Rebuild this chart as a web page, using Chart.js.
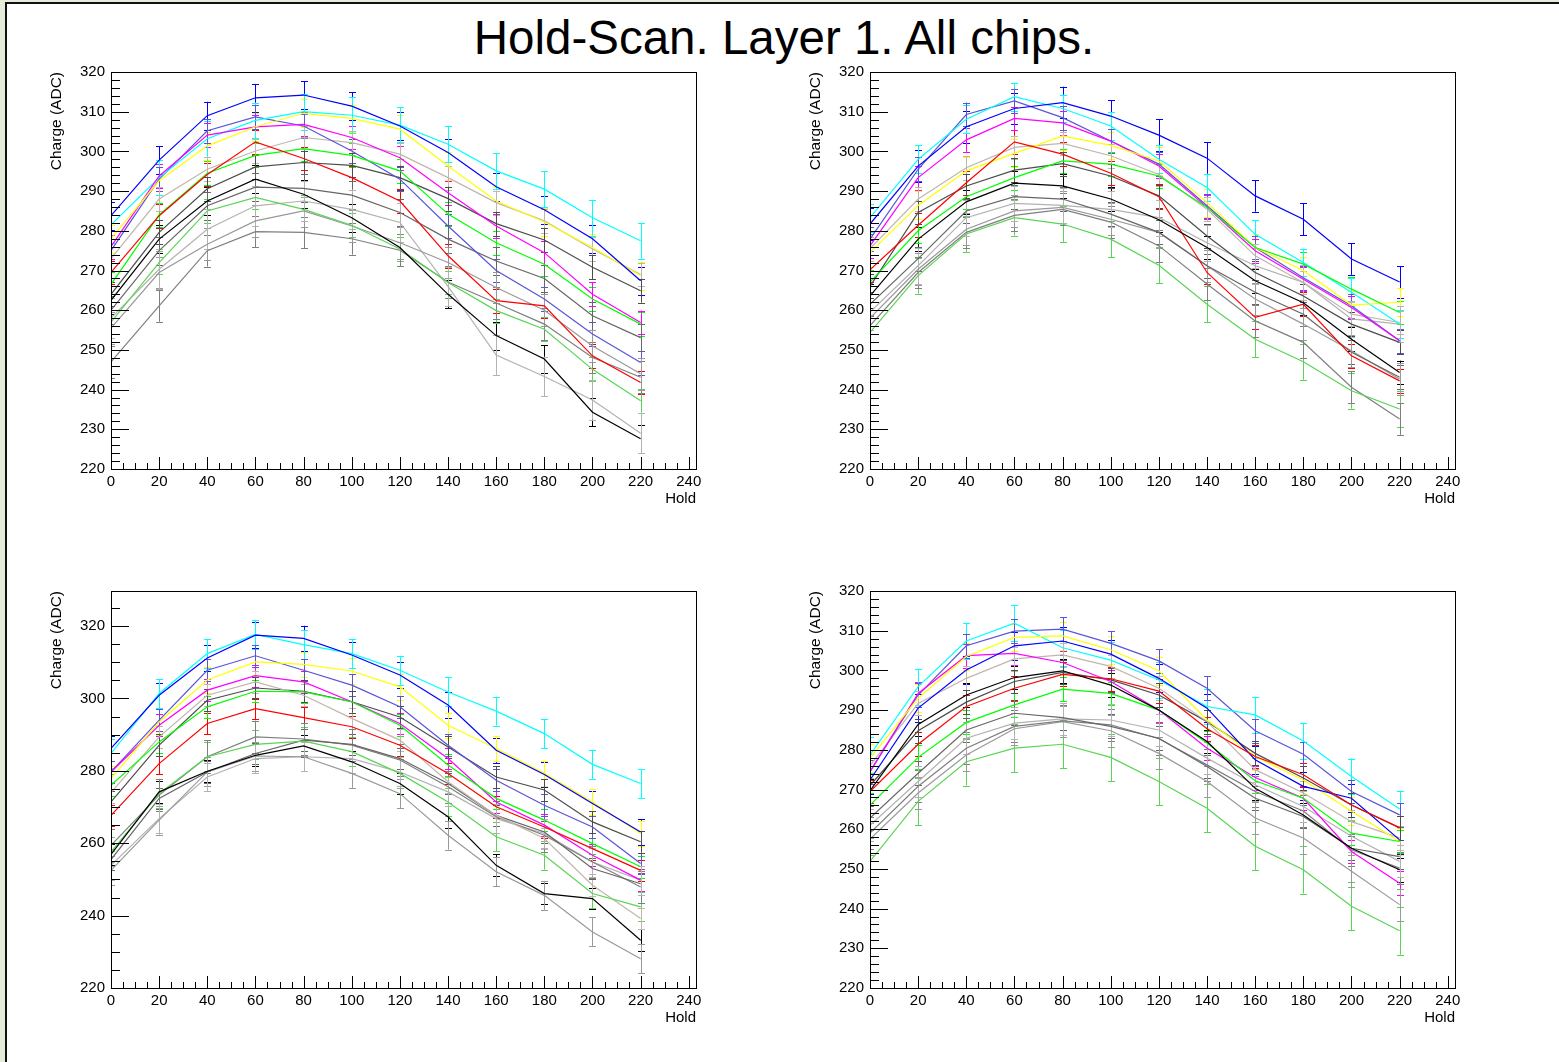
<!DOCTYPE html>
<html>
<head>
<meta charset="utf-8">
<script src="https://cdn.jsdelivr.net/npm/chart.js@4.4.1/dist/chart.umd.min.js"></script>
<style>
  html, body { margin:0; padding:0; }
  body { width:1559px; height:1062px; background:#e3edd9; position:relative; overflow:hidden; font-family:"Liberation Sans", Arial, Helvetica, sans-serif; }
  #sheet { position:absolute; left:5px; top:2px; right:0; bottom:0; background:#fff; border-left:2px solid #111; border-top:2px solid #111; }
  #title { position:absolute; left:0; top:14px; width:1568px; text-align:center; font-size:47.5px; line-height:48px; color:#000; }
  canvas { position:absolute; }
</style>
</head>
<body>
<div id="sheet"></div>
<div id="title">Hold-Scan. Layer 1. All chips.</div>
<canvas id="c1" width="700" height="460" style="left:30px;top:55px;width:700px;height:460px"></canvas>
<canvas id="c2" width="700" height="460" style="left:789px;top:55px;width:700px;height:460px"></canvas>
<canvas id="c3" width="700" height="460" style="left:30px;top:574px;width:700px;height:460px"></canvas>
<canvas id="c4" width="700" height="460" style="left:789px;top:574px;width:700px;height:460px"></canvas>
<script>
// ---------- data ----------
const holds = [0, 20, 40, 60, 80, 100, 120, 140, 160, 180, 200, 220];
const chips = [1, 2, 3, 4, 5, 6, 7, 8, 9, 11, 12, 13, 14, 15, 16];

// Panel 1
const p1_c1  = [262.5, 277.9, 287.5, 293.0, 289.2, 283.3, 275.8, 264.0, 253.6, 247.7, 234.3, 227.6];
const p1_c2  = [269.5, 283.8, 294.2, 302.4, 298.2, 293.4, 287.5, 273.7, 262.4, 261.1, 248.5, 241.8];
const p1_c3  = [266.5, 284.0, 294.5, 299.0, 300.7, 299.0, 295.1, 284.2, 277.0, 271.6, 262.8, 256.5];
const p1_c4  = [283.8, 297.8, 309.0, 313.5, 314.2, 311.4, 306.4, 299.7, 291.1, 285.3, 278.0, 267.4];
const p1_c5  = [278.0, 292.6, 301.4, 306.2, 309.6, 308.3, 305.6, 296.3, 287.5, 282.2, 275.8, 268.7];
const p1_c6  = [276.0, 293.8, 304.1, 306.2, 306.8, 303.5, 298.4, 289.6, 281.2, 274.5, 264.0, 256.9];
const p1_c7  = [281.5, 293.4, 303.2, 307.8, 310.0, 309.1, 306.6, 301.8, 295.1, 290.5, 283.3, 277.5];
const p1_c8  = [257.0, 272.0, 285.0, 288.4, 285.4, 281.4, 275.4, 267.0, 259.9, 255.2, 245.1, 237.2];
const p1_c9  = [275.0, 293.0, 305.2, 308.7, 306.4, 300.1, 293.0, 281.2, 270.0, 262.8, 254.0, 246.8];
const p1_c11 = [273.0, 288.0, 295.5, 300.1, 303.5, 302.2, 299.3, 293.4, 287.1, 282.5, 275.4, 269.0];
const p1_c12 = [264.0, 279.6, 290.6, 296.1, 297.2, 296.5, 293.4, 288.1, 281.8, 277.7, 270.8, 264.9];
const p1_c13 = [260.0, 275.0, 286.3, 291.0, 290.7, 289.0, 284.6, 277.9, 272.4, 268.0, 258.6, 253.1];
const p1_c14 = [247.0, 261.1, 275.0, 279.8, 279.6, 278.0, 275.1, 267.1, 261.8, 256.5, 248.1, 243.1];
const p1_c15 = [255.5, 269.5, 276.6, 282.5, 285.0, 281.2, 277.0, 272.0, 265.7, 260.0, 251.0, 244.0];
const p1_c16 = [258.0, 270.3, 280.4, 286.3, 287.5, 285.4, 282.1, 266.0, 248.7, 243.3, 237.4, 229.0];
const p1_err = [3.5, 3.0, 3.0, 3.5, 3.5, 3.0, 4.5, 3.0, 3.0, 3.0, 3.0, 3.5, 4.0, 4.0, 5.0];

// Panel 2
const p2_c1  = [263.6, 277.9, 287.3, 292.0, 291.3, 288.0, 282.8, 275.8, 267.4, 261.9, 252.7, 244.3];
const p2_c2  = [270.2, 281.4, 292.1, 302.4, 299.3, 294.5, 288.6, 269.5, 258.2, 261.5, 248.5, 242.2];
const p2_c3  = [267.1, 280.0, 288.6, 293.4, 297.6, 296.8, 293.8, 285.9, 275.8, 271.6, 265.3, 259.4];
const p2_c4  = [281.7, 296.3, 306.2, 310.8, 312.3, 308.9, 304.1, 298.3, 288.8, 282.9, 272.9, 267.1];
const p2_c5  = [274.5, 286.4, 295.1, 299.5, 303.9, 301.5, 297.6, 287.1, 275.8, 270.0, 261.3, 262.0];
const p2_c6  = [276.2, 293.4, 302.9, 308.3, 307.2, 302.6, 296.3, 285.9, 275.0, 267.8, 260.7, 252.3];
const p2_c7  = [283.3, 298.0, 308.1, 313.8, 310.8, 306.4, 298.0, 290.9, 279.1, 272.0, 264.5, 256.5];
const p2_c8  = [254.4, 268.7, 279.2, 283.3, 281.7, 277.9, 271.3, 261.5, 252.7, 247.0, 239.7, 235.1];
const p2_c9  = [277.9, 295.5, 309.3, 312.7, 308.5, 302.6, 296.8, 286.3, 275.8, 268.2, 261.1, 252.3];
const p2_c11 = [275.5, 288.0, 295.9, 301.0, 302.0, 298.9, 294.2, 285.4, 273.7, 267.0, 259.0, 256.9];
const p2_c12 = [266.0, 284.6, 291.3, 295.3, 296.9, 293.8, 288.8, 278.7, 269.5, 263.6, 256.5, 251.9];
const p2_c13 = [261.5, 273.0, 285.0, 288.6, 288.0, 284.2, 279.6, 271.2, 264.5, 259.0, 249.4, 243.1];
const p2_c14 = [256.1, 269.5, 279.6, 283.9, 285.4, 282.2, 276.2, 266.6, 257.3, 251.9, 240.6, 232.6];
const p2_c15 = [258.0, 270.3, 280.4, 285.0, 285.9, 282.9, 279.6, 271.2, 262.8, 256.5, 249.8, 242.6];
const p2_c16 = [259.5, 271.2, 283.3, 286.9, 286.4, 285.4, 283.3, 277.0, 271.2, 267.0, 257.8, 256.5];
const p2_err = [3.0, 3.0, 3.0, 4.0, 3.5, 3.0, 3.5, 4.5, 3.0, 3.0, 3.0, 3.0, 4.0, 4.0, 4.5];

// Panel 3
const p3_c1  = [256.9, 274.2, 279.9, 284.3, 286.9, 282.5, 276.5, 267.3, 253.9, 246.1, 244.7, 233.2];
const p3_c2  = [267.7, 282.0, 293.1, 297.2, 294.7, 292.2, 287.1, 279.3, 270.1, 264.5, 258.5, 252.5];
const p3_c3  = [276.0, 288.0, 297.7, 302.0, 301.8, 299.1, 292.6, 281.6, 272.4, 266.4, 259.9, 253.5];
const p3_c4  = [286.2, 300.9, 311.2, 317.5, 316.6, 312.0, 306.5, 298.2, 285.7, 279.0, 271.0, 263.1];
const p3_c5  = [277.9, 293.5, 305.1, 310.1, 309.4, 307.6, 303.2, 292.6, 286.2, 279.3, 271.4, 262.7];
const p3_c6  = [279.7, 292.6, 302.3, 306.3, 304.6, 299.1, 293.1, 283.4, 271.4, 265.0, 256.7, 249.8];
const p3_c7  = [284.8, 301.4, 312.4, 317.7, 314.9, 312.4, 307.8, 301.8, 296.5, 290.3, 281.8, 276.5];
const p3_c8  = [257.6, 273.7, 283.9, 287.3, 288.2, 285.3, 279.3, 271.4, 261.8, 256.7, 246.1, 242.4];
const p3_c9  = [279.7, 294.0, 307.8, 311.8, 307.8, 303.7, 297.7, 287.1, 277.4, 270.5, 264.5, 254.4];
const p3_c11 = [274.0, 289.4, 300.9, 304.6, 300.9, 294.5, 288.5, 277.0, 267.7, 261.3, 248.4, 239.2];
const p3_c12 = [271.4, 287.1, 299.5, 302.9, 302.0, 299.1, 294.9, 286.6, 278.3, 274.7, 265.9, 260.4];
const p3_c13 = [255.5, 272.4, 279.7, 284.8, 288.5, 287.3, 283.4, 276.5, 267.7, 263.1, 253.0, 248.8];
const p3_c14 = [259.4, 273.3, 283.9, 289.4, 288.8, 287.1, 283.0, 275.6, 267.3, 262.2, 254.8, 247.9];
const p3_c15 = [252.5, 266.4, 279.7, 284.1, 283.9, 279.3, 273.7, 262.2, 252.1, 245.6, 235.5, 228.1];
const p3_c16 = [253.9, 266.8, 278.3, 283.4, 283.9, 283.4, 279.7, 274.2, 266.8, 262.7, 254.8, 249.8];
const p3_err = [3.0, 3.0, 3.0, 3.5, 3.5, 3.0, 4.0, 4.0, 3.0, 3.0, 3.0, 3.0, 4.5, 4.0, 4.0];

// Panel 4
const p4_c1  = [269.7, 286.4, 293.8, 298.2, 299.9, 296.3, 290.0, 282.1, 270.3, 263.6, 255.2, 249.8];
const p4_c2  = [269.5, 281.4, 290.9, 295.5, 299.0, 297.9, 294.8, 285.3, 278.3, 273.7, 266.1, 260.4];
const p4_c3  = [266.1, 278.1, 286.9, 291.3, 295.3, 294.2, 290.0, 281.7, 272.2, 267.8, 259.0, 256.9];
const p4_c4  = [272.4, 290.5, 300.1, 306.2, 307.4, 304.1, 298.0, 290.5, 277.5, 270.8, 267.8, 257.3];
const p4_c5  = [277.9, 293.0, 303.5, 308.3, 308.7, 305.2, 299.9, 287.5, 278.3, 272.4, 264.5, 256.9];
const p4_c6  = [274.5, 294.2, 303.7, 304.3, 302.0, 297.2, 290.0, 280.4, 273.0, 267.8, 254.4, 246.4];
const p4_c7  = [278.7, 295.9, 307.4, 311.9, 305.7, 302.6, 297.6, 290.9, 288.8, 282.2, 273.3, 265.1];
const p4_c8  = [251.9, 267.0, 277.0, 280.4, 281.4, 278.1, 272.0, 265.3, 255.7, 249.8, 240.6, 234.4];
const p4_c9  = [274.5, 293.8, 306.2, 309.9, 310.4, 306.8, 302.4, 295.5, 284.8, 278.9, 269.5, 263.6];
const p4_c11 = [276.0, 291.7, 298.0, 302.9, 303.9, 301.0, 295.5, 287.1, 275.0, 269.1, 261.9, 257.8];
const p4_c12 = [271.0, 284.8, 292.0, 297.2, 299.5, 297.6, 293.8, 287.1, 279.1, 272.9, 266.1, 260.3];
const p4_c13 = [262.8, 274.1, 285.0, 289.2, 288.1, 285.9, 282.9, 275.8, 267.8, 263.2, 255.2, 253.1];
const p4_c14 = [259.0, 270.8, 280.4, 285.9, 287.3, 286.3, 282.8, 276.2, 269.5, 264.6, 254.8, 250.2];
const p4_c15 = [257.5, 269.1, 278.7, 285.3, 287.1, 284.8, 279.1, 272.0, 262.8, 257.8, 249.4, 241.0];
const p4_c16 = [261.0, 272.0, 282.9, 286.7, 287.8, 287.5, 285.0, 277.9, 271.2, 265.7, 258.2, 251.9];
const p4_err = [3.0, 3.0, 3.0, 3.5, 3.5, 3.0, 4.5, 6.0, 3.0, 3.0, 3.0, 3.0, 4.0, 4.0, 4.0];

const xTicksMajor = [0, 20, 40, 60, 80, 100, 120, 140, 160, 180, 200, 220, 240];

// ---------- styles ----------
const chipColor = {1:'#000000',2:'#ff0000',3:'#00ff00',4:'#0000ff',5:'#ffff00',6:'#ff00ff',7:'#00ffff',
  8:'#59d454',9:'#5954d8',11:'#c0b6ac',12:'#4c4c4c',13:'#666666',14:'#7f7f7f',15:'#999999',16:'#b2b2b2'};
const FONT = '"Liberation Sans", Arial, Helvetica, sans-serif';

const panels = [
  { id:'c1', series:[p1_c1,p1_c2,p1_c3,p1_c4,p1_c5,p1_c6,p1_c7,p1_c8,p1_c9,p1_c11,p1_c12,p1_c13,p1_c14,p1_c15,p1_c16], err:p1_err, ymin:220, ymax:320, ystep:10, yminor:2 },
  { id:'c2', series:[p2_c1,p2_c2,p2_c3,p2_c4,p2_c5,p2_c6,p2_c7,p2_c8,p2_c9,p2_c11,p2_c12,p2_c13,p2_c14,p2_c15,p2_c16], err:p2_err, ymin:220, ymax:320, ystep:10, yminor:2 },
  { id:'c3', series:[p3_c1,p3_c2,p3_c3,p3_c4,p3_c5,p3_c6,p3_c7,p3_c8,p3_c9,p3_c11,p3_c12,p3_c13,p3_c14,p3_c15,p3_c16], err:p3_err, ymin:220, ymax:329.7, ystep:20, yminor:5 },
  { id:'c4', series:[p4_c1,p4_c2,p4_c3,p4_c4,p4_c5,p4_c6,p4_c7,p4_c8,p4_c9,p4_c11,p4_c12,p4_c13,p4_c14,p4_c15,p4_c16], err:p4_err, ymin:220, ymax:320, ystep:10, yminor:2 },
];

const rootPlugin = {
  id: 'rootStyle',
  beforeDatasetsDraw(chart) {
    const cfg = chart.options.plugins.rootStyle;
    const ctx = chart.ctx, xs = chart.scales.x, ys = chart.scales.y;
    const ca = chart.chartArea;
    ctx.save();
    ctx.beginPath(); ctx.rect(ca.left, ca.top, ca.right - ca.left, ca.bottom - ca.top); ctx.clip();
    ctx.lineWidth = 1;
    chart.data.datasets.forEach((ds, i) => {
      const e = cfg.err[i];
      ctx.strokeStyle = ds.borderColor;
      ds.data.forEach(pt => {
        const x = Math.round(xs.getPixelForValue(pt.x)) + 0.5;
        const y1 = ys.getPixelForValue(pt.y + e), y2 = ys.getPixelForValue(pt.y - e);
        ctx.beginPath();
        ctx.moveTo(x, y1); ctx.lineTo(x, y2);
        ctx.moveTo(x - 3.5, Math.round(y1) + 0.5); ctx.lineTo(x + 3.5, Math.round(y1) + 0.5);
        ctx.moveTo(x - 3.5, Math.round(y2) + 0.5); ctx.lineTo(x + 3.5, Math.round(y2) + 0.5);
        ctx.stroke();
      });
    });
    ctx.restore();
  },
  afterDraw(chart) {
    const cfg = chart.options.plugins.rootStyle;
    const ctx = chart.ctx, xs = chart.scales.x, ys = chart.scales.y;
    const ca = chart.chartArea;
    ctx.save();
    ctx.strokeStyle = '#000';
    ctx.lineWidth = 1;
    ctx.strokeRect(Math.round(ca.left) + 0.5, Math.round(ca.top) + 0.5, Math.round(ca.right - ca.left), Math.round(ca.bottom - ca.top));
    ctx.beginPath();
    for (let v = cfg.ymin; v <= cfg.ymax + 1e-6; v += cfg.yminor) {
      const y = Math.round(ys.getPixelForValue(v)) + 0.5;
      const major = Math.abs(((v - cfg.ymin) / cfg.ystep) - Math.round((v - cfg.ymin) / cfg.ystep)) < 1e-6;
      ctx.moveTo(ca.left, y); ctx.lineTo(ca.left + (major ? 18 : 9), y);
    }
    for (let v = 0; v <= xs.max + 1e-6; v += 5) {
      const x = Math.round(xs.getPixelForValue(v)) + 0.5;
      const major = v % 20 === 0;
      ctx.moveTo(x, ca.bottom); ctx.lineTo(x, ca.bottom - (major ? 12 : 6));
    }
    ctx.stroke();
    ctx.fillStyle = '#000';
    ctx.font = '15px ' + FONT;
    ctx.textAlign = 'right'; ctx.textBaseline = 'alphabetic';
    ctx.fillText('Hold', ca.right, ca.bottom + 34);
    ctx.font = '15.5px ' + FONT;
    ctx.translate(ca.left - 54, ca.top);
    ctx.rotate(-Math.PI / 2);
    ctx.textAlign = 'right'; ctx.textBaseline = 'middle';
    ctx.fillText('Charge (ADC)', 0, 0);
    ctx.restore();
  }
};

panels.forEach(p => {
  const datasets = p.series.map((vals, i) => ({
    label: 'chip ' + chips[i],
    data: holds.map((h, k) => ({ x: h, y: vals[k] })),
    borderColor: chipColor[chips[i]],
    borderWidth: 1.2,
    pointRadius: 0,
    tension: 0,
    fill: false,
  }));
  new Chart(document.getElementById(p.id), {
    type: 'line',
    data: { datasets },
    plugins: [rootPlugin],
    options: {
      responsive: false,
      animation: false,
      devicePixelRatio: 1,
      events: [],
      layout: { padding: { left: 0, top: 17, right: 34, bottom: 0 } },
      plugins: {
        legend: { display: false },
        tooltip: { enabled: false },
        rootStyle: { err: p.err, ymin: p.ymin, ymax: p.ymax, ystep: p.ystep, yminor: p.yminor },
      },
      scales: {
        x: {
          type: 'linear', min: 0, max: 243,
          grid: { display: false, drawTicks: false },
          border: { display: false },
          afterBuildTicks: s => { s.ticks = xTicksMajor.map(v => ({ value: v })); },
          ticks: { autoSkip: false, maxRotation: 0, padding: 4, color: '#000', font: { family: FONT, size: 15 } },
          afterFit: s => { s.height = 46; },
        },
        y: {
          type: 'linear', min: p.ymin, max: p.ymax,
          grid: { display: false, drawTicks: false },
          border: { display: false },
          ticks: { stepSize: p.ystep, includeBounds: false, padding: 6, color: '#000', font: { family: FONT, size: 15 } },
          afterFit: s => { s.width = 81; },
        },
      },
    },
  });
});
</script>
</body>
</html>
